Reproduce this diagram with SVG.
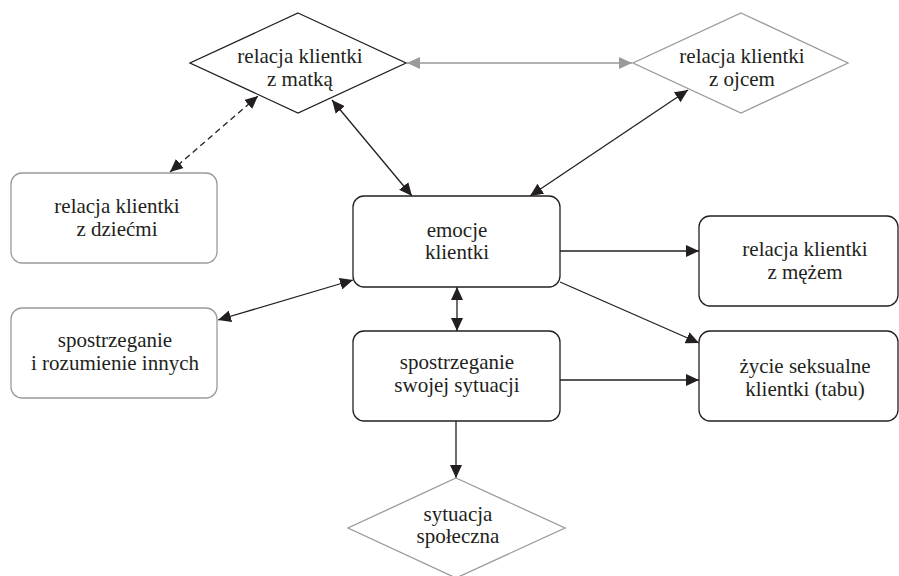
<svg xmlns="http://www.w3.org/2000/svg" width="899" height="576" viewBox="0 0 899 576" font-family="Liberation Serif, DejaVu Serif, serif">
  <style>
    text { font-size: 21px; fill: #231f20; text-anchor: middle; }
    .box { fill: #ffffff; stroke: #231f20; stroke-width: 1.3; }
    .box-gray { fill: #ffffff; stroke: #9a9a9a; stroke-width: 1.3; }
    .edge { fill: none; stroke: #231f20; stroke-width: 1.3; }
    .edge-gray { fill: none; stroke: #9a9a9a; stroke-width: 1.5; }
    .dashed { stroke-dasharray: 6 4; }
  </style>
  <defs>
    <marker id="arrow" viewBox="0 0 13 12" refX="13" refY="6" markerWidth="13" markerHeight="12" markerUnits="userSpaceOnUse" orient="auto-start-reverse">
      <path d="M0,0 L13,6 L0,12 z" fill="#231f20"/>
    </marker>
    <marker id="arrow-gray" viewBox="0 0 13 12" refX="13" refY="6" markerWidth="13" markerHeight="12" markerUnits="userSpaceOnUse" orient="auto-start-reverse">
      <path d="M0,0 L13,6 L0,12 z" fill="#9a9a9a"/>
    </marker>
  </defs>

  <rect width="899" height="576" fill="#ffffff"/>

  <!-- connectors -->
  <g id="connectors">
    <line class="edge-gray" x1="407" y1="63" x2="632" y2="63" marker-start="url(#arrow-gray)" marker-end="url(#arrow-gray)"/>
    <line class="edge dashed" x1="170" y1="172" x2="258" y2="96" marker-start="url(#arrow)" marker-end="url(#arrow)"/>
    <line class="edge" x1="332" y1="100" x2="412" y2="196" marker-start="url(#arrow)" marker-end="url(#arrow)"/>
    <line class="edge" x1="530" y1="196" x2="688" y2="90" marker-start="url(#arrow)" marker-end="url(#arrow)"/>
    <line class="edge" x1="218" y1="320" x2="353" y2="280" marker-start="url(#arrow)" marker-end="url(#arrow)"/>
    <line class="edge" x1="457" y1="287" x2="457" y2="331" marker-start="url(#arrow)" marker-end="url(#arrow)"/>
    <line class="edge" x1="560" y1="251" x2="699" y2="251" marker-end="url(#arrow)"/>
    <line class="edge" x1="560" y1="282" x2="699" y2="343" marker-end="url(#arrow)"/>
    <line class="edge" x1="560" y1="380" x2="699" y2="380" marker-end="url(#arrow)"/>
    <line class="edge" x1="456" y1="421" x2="456" y2="478" marker-end="url(#arrow)"/>
  </g>

  <!-- nodes -->
  <g id="relacja-matka">
    <polygon class="box" points="298,13 406,63 298,113 190,63"/>
    <text x="300" y="63">relacja klientki</text>
    <text x="300" y="86">z matką</text>
  </g>

  <g id="relacja-ojciec">
    <polygon class="box-gray" points="741,13 848,63 741,113 633,63"/>
    <text x="742" y="63">relacja klientki</text>
    <text x="742" y="86">z ojcem</text>
  </g>

  <g id="relacja-dzieci">
    <rect class="box-gray" x="11" y="173" width="206" height="90" rx="11"/>
    <text x="117" y="213">relacja klientki</text>
    <text x="117" y="236">z dziećmi</text>
  </g>

  <g id="spostrzeganie-innych">
    <rect class="box-gray" x="11" y="308" width="206" height="90" rx="11"/>
    <text x="115" y="347">spostrzeganie</text>
    <text x="115" y="370">i rozumienie innych</text>
  </g>

  <g id="emocje">
    <rect class="box" x="353" y="196" width="207" height="91" rx="11"/>
    <text x="457" y="237">emocje</text>
    <text x="457" y="259">klientki</text>
  </g>

  <g id="spostrzeganie-sytuacji">
    <rect class="box" x="353" y="331" width="207" height="90" rx="11"/>
    <text x="457" y="369">spostrzeganie</text>
    <text x="457" y="392">swojej sytuacji</text>
  </g>

  <g id="relacja-maz">
    <rect class="box" x="699" y="216" width="199" height="90" rx="11"/>
    <text x="805" y="256">relacja klientki</text>
    <text x="805" y="279">z mężem</text>
  </g>

  <g id="zycie-seksualne">
    <rect class="box" x="699" y="331" width="199" height="90" rx="11"/>
    <text x="805" y="373">życie seksualne</text>
    <text x="805" y="396">klientki (tabu)</text>
  </g>

  <g id="sytuacja-spoleczna">
    <polygon class="box-gray" points="456,478 565,528 456,578 348,528"/>
    <text x="458" y="521">sytuacja</text>
    <text x="458" y="543">społeczna</text>
  </g>
</svg>
